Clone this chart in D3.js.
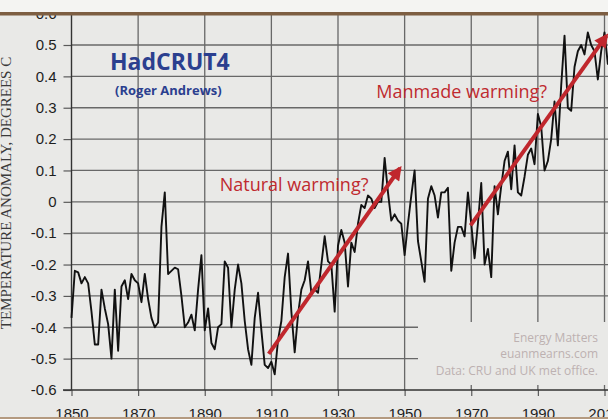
<!DOCTYPE html>
<html>

<head>
  <meta charset="utf-8">
  <title>HadCRUT4</title>
  <script src="https://cdn.jsdelivr.net/npm/d3@7"></script>
  <style>
    body {
      margin: 0;
      background: #e9e9e7;
      overflow: hidden;
    }
  </style>
</head>

<body>
  <main id="container"></main>

  <script type="module">
    // annual anomalies
    const years = d3.range(1850, 2013)
    const anomalies = [
      -0.37, -0.22, -0.225, -0.26, -0.24, -0.26, -0.35, -0.455, -0.455, -0.28,
      -0.34, -0.39, -0.50, -0.28, -0.475, -0.27, -0.25, -0.31, -0.23, -0.25,
      -0.26, -0.32, -0.23, -0.31, -0.37, -0.40, -0.385, -0.08, 0.03, -0.23,
      -0.22, -0.21, -0.215, -0.30, -0.40, -0.385, -0.36, -0.41, -0.28, -0.17,
      -0.41, -0.34, -0.45, -0.47, -0.40, -0.39, -0.19, -0.21, -0.40, -0.28,
      -0.20, -0.26, -0.38, -0.47, -0.52, -0.37, -0.29, -0.41, -0.52, -0.53,
      -0.51, -0.55, -0.44, -0.38, -0.24, -0.165, -0.35, -0.48, -0.36, -0.28,
      -0.25, -0.19, -0.29, -0.28, -0.29, -0.20, -0.11, -0.19, -0.20, -0.35,
      -0.14, -0.09, -0.13, -0.27, -0.13, -0.16, -0.07, -0.01, -0.02, 0.02,
      0.01, -0.02, 0.0, 0.0, 0.14, 0.03, -0.06, -0.04, -0.06, -0.07,
      -0.17, -0.07, 0.02, 0.10, -0.125, -0.19, -0.255, 0.01, 0.05, 0.02,
      -0.05, 0.03, 0.03, 0.045, -0.22, -0.13, -0.08, -0.08, -0.11, 0.03,
      -0.07, -0.18, -0.07, 0.06, -0.20, -0.15, -0.24, 0.05, -0.04, 0.05,
      0.13, 0.16, 0.04, 0.18, 0.03, 0.02, 0.08, 0.15, 0.17, 0.12,
      0.28, 0.24, 0.10, 0.13, 0.20, 0.32, 0.18, 0.37, 0.53, 0.30,
      0.29, 0.43, 0.48, 0.50, 0.47, 0.54, 0.50, 0.48, 0.39, 0.48,
      0.54, 0.44, 0.47
    ]

    const xTicks = d3.range(1850, 2011, 20)
    const yTicks = d3.range(-6, 7).map(d => d / 10)

    // trend arrows [year, anomaly] -> [year, anomaly]
    const arrowStarts = [[1909.2, -0.485], [1969.8, -0.075]]
    const arrowEnds = [[1948.6, 0.107], [2010.6, 0.53]]
    const arrowLabels = ["Natural warming?", "Manmade warming?"]
    const arrowLabelPos = [[1894.5, 0.035], [1941.5, 0.33]]

    const creditLines = ["Energy Matters", "euanmearns.com", "Data: CRU and UK met office."]

    const vizWidth = 608
    const vizHeight = 419
    const paper = "#e9e9e7"
    const gridColor = "#686868"

    // the credit block sits on blank paper, the grid stops around it
    const boxLeft = 418
    const boxTop = 322
    const boxBottom = 385

    const svg = d3.select("#container")
      .append("svg")
      .attr("width", vizWidth)
      .attr("height", vizHeight)
      .style("display", "block")

    svg.append("rect")
      .attr("width", vizWidth)
      .attr("height", vizHeight)
      .attr("fill", paper)

    const xScale = d3.scaleLinear().domain([1850, 2010]).range([71.5, 604.5])
    const yScale = d3.scaleLinear().domain([-0.6, 0.5]).range([390, 45])
    const bottom = yScale(-0.6)

    // axes
    const yAxis = svg.append("g")
      .attr("transform", `translate(${xScale(1850)},0)`)
      .call(d3.axisLeft(yScale)
        .tickValues(yTicks)
        .tickSize(8)
        .tickPadding(7)
        .tickFormat(d => d === 0 ? "0" : d.toFixed(1)))
    yAxis.select(".domain").remove()

    const xAxis = svg.append("g")
      .attr("transform", `translate(0,${bottom})`)
      .call(d3.axisBottom(xScale)
        .tickValues(xTicks)
        .tickSize(6)
        .tickPadding(12)
        .tickFormat(d3.format("d")))
    xAxis.select(".domain").remove()

    for (const g of [yAxis, xAxis]) {
      g.selectAll(".tick text")
        .attr("font-family", "'Liberation Sans', Arial, sans-serif")
        .attr("font-size", 15)
        .attr("fill", "#1e1e1e")
      g.selectAll(".tick line").attr("stroke", "#5a5a5a").attr("stroke-width", 1.2)
    }

    // grid
    const grid = svg.append("g")

    grid.selectAll(".hgrid")
      .data(yTicks.slice(1))
      .join("path")
      .attr("class", "hgrid")
      .attr("d", d => {
        const end = (d < -0.35) ? boxLeft : vizWidth
        return `M${xScale(1850)},${yScale(d)}H${end}`
      })

    grid.selectAll(".vgrid")
      .data(xTicks.slice(1))
      .join("path")
      .attr("class", "vgrid")
      .attr("d", d => xScale(d) > boxLeft
        ? `M${xScale(d)},0V${boxTop}M${xScale(d)},${boxBottom}V${bottom}`
        : `M${xScale(d)},0V${bottom}`)

    grid.selectAll("path")
      .attr("fill", "none")
      .attr("stroke", gridColor)
      .attr("stroke-width", 1.3)

    // axis lines
    svg.append("path")
      .attr("d", `M${xScale(1850)},0V${bottom}M63,${bottom}H${vizWidth}`)
      .attr("fill", "none")
      .attr("stroke", "#333")
      .attr("stroke-width", 1.4)

    // the series
    svg.append("path")
      .datum(years.map((yr, i) => [yr, anomalies[i]]))
      .attr("fill", "none")
      .attr("stroke", "#111")
      .attr("stroke-width", 1.9)
      .attr("stroke-linejoin", "round")
      .attr("d", d3.line()
        .x(d => xScale(d[0]))
        .y(d => yScale(d[1])))

    // arrows
    svg.append("defs").append("marker")
      .attr("id", "head")
      .attr("viewBox", "0 0 10 10")
      .attr("refX", 8)
      .attr("refY", 5)
      .attr("markerWidth", 17)
      .attr("markerHeight", 14)
      .attr("markerUnits", "userSpaceOnUse")
      .attr("orient", "auto")
      .append("path")
      .attr("d", "M0,0L10,5L0,10Z")
      .attr("fill", "#c0272d")

    svg.append("g")
      .selectAll("line")
      .data(arrowStarts)
      .join("line")
      .attr("x1", d => xScale(d[0]))
      .attr("y1", d => yScale(d[1]))
      .attr("x2", (d, i) => xScale(arrowEnds[i][0]))
      .attr("y2", (d, i) => yScale(arrowEnds[i][1]))
      .attr("stroke", "#c0272d")
      .attr("stroke-width", 4)
      .attr("marker-end", "url(#head)")

    svg.append("g")
      .selectAll("text")
      .data(arrowLabels)
      .join("text")
      .attr("x", (d, i) => xScale(arrowLabelPos[i][0]))
      .attr("y", (d, i) => yScale(arrowLabelPos[i][1]))
      .attr("font-family", "'Open Sans', sans-serif")
      .attr("font-size", 18)
      .attr("fill", "#bf2a2f")
      .text(d => d)

    // title
    svg.append("text")
      .attr("x", 110)
      .attr("y", 70)
      .attr("font-family", "'Open Sans', sans-serif")
      .attr("font-weight", "bold")
      .attr("font-size", 23)
      .attr("fill", "#2b3f8f")
      .text("HadCRUT4")

    svg.append("text")
      .attr("x", 115)
      .attr("y", 95)
      .attr("font-family", "'Open Sans', sans-serif")
      .attr("font-weight", "bold")
      .attr("font-size", 13)
      .attr("fill", "#2b3f8f")
      .text("(Roger Andrews)")

    // credits
    svg.append("g")
      .selectAll("text")
      .data(creditLines)
      .join("text")
      .attr("x", 598)
      .attr("y", (d, i) => 342 + i * 16.3)
      .attr("text-anchor", "end")
      .attr("font-family", "'Open Sans', sans-serif")
      .attr("font-size", 12)
      .attr("fill", "#bdb1b1")
      .text(d => d)

    // y axis title
    svg.append("text")
      .attr("transform", "translate(11,193) rotate(-90)")
      .attr("text-anchor", "middle")
      .attr("font-family", "'Liberation Serif', serif")
      .attr("font-size", 15)
      .attr("fill", "#3a3a3a")
      .text("TEMPERATURE ANOMALY, DEGREES C")

    // photo edges
    svg.append("rect").attr("width", vizWidth).attr("height", 12).attr("fill", "#f4f4f2")
    svg.append("rect").attr("y", 12).attr("width", vizWidth).attr("height", 3.5).attr("fill", "#7d5e42")
    svg.append("rect").attr("y", 417).attr("width", vizWidth).attr("height", 2).attr("fill", "#b49a80")
  </script>
</body>

</html>
